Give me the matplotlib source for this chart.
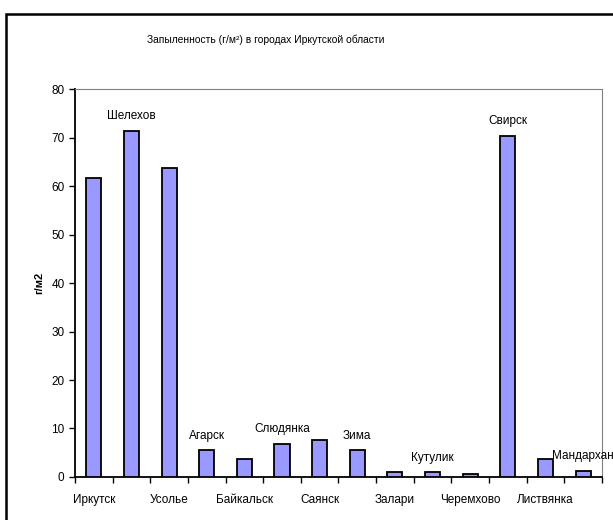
import matplotlib.pyplot as plt
from matplotlib.patches import Rectangle

plt.rcParams['font.family'] = ['Liberation Sans', 'DejaVu Sans']

cities = ['Иркутск', 'Шелехов', 'Усолье', 'Агарск', 'Байкальск', 'Слюдянка', 'Саянск',
          'Зима', 'Залари', 'Кутулик', 'Черемхово', 'Свирск', 'Листвянка', 'Мандархан']
dust = [61.7, 71.4, 63.7, 5.6, 3.8, 6.9, 7.6, 5.6, 1.0, 1.0, 0.6, 70.4, 3.8, 1.3]

fig = plt.figure(figsize=(6.13, 5.2), dpi=100)
ax = fig.add_axes([0.1223, 0.0827, 0.8597, 0.7461])

# внешняя рамка диаграммы
fig.patches.append(Rectangle((6 / 613, -0.1), 1.1, 1 - 14 / 520 + 0.1,
                             transform=fig.transFigure, fill=False,
                             edgecolor='black', linewidth=1.8))

x = range(len(cities))
ax.bar(x, dust, width=0.4, color='#9999ff', edgecolor='black', linewidth=1.3, zorder=3)

# чётные города подписаны на оси, нечётные - над столбцами
ax.set_xticks([i for i in x if i % 2 == 0])
ax.set_xticklabels([c for i, c in enumerate(cities) if i % 2 == 0], fontsize=8.5)
ax.set_xticks([i - 0.5 for i in range(len(cities) + 1)], minor=True)
ax.tick_params(axis='x', which='major', length=0, pad=12)
ax.tick_params(axis='x', which='minor', length=4, width=1, direction='out')
for i, c in enumerate(cities):
    if i % 2 == 1:
        ax.annotate(c, (i, dust[i]), xytext=(0, 6), textcoords='offset points',
                    ha='center', va='bottom', fontsize=8.5)

ax.set_xlim(-0.5, len(cities) - 0.5)
ax.set_ylim(0, 80)
ax.set_yticks(range(0, 81, 10))
ax.tick_params(axis='y', labelsize=8.5, length=4, width=1, direction='out')
ax.set_ylabel('г/м2', fontsize=8, fontweight='bold', labelpad=5)

for s in ['left', 'bottom']:
    ax.spines[s].set_linewidth(1.3)
for s in ['top', 'right']:
    ax.spines[s].set_color('#808080')

fig.text(0.434, 0.923, 'Запыленность (г/м²) в городах Иркутской области',
         ha='center', va='center', fontsize=7.4)

fig.savefig('out.png', dpi=100)
